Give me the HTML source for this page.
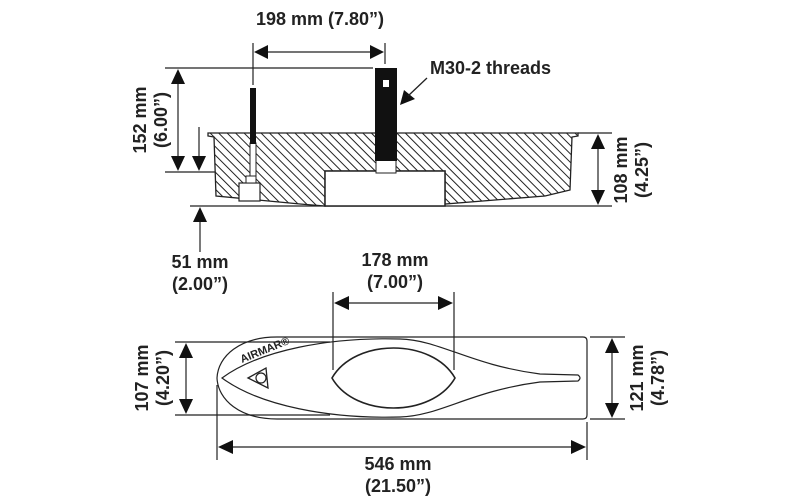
<!DOCTYPE html>
<html><head><meta charset="utf-8"><style>
html,body{margin:0;padding:0;background:#fff;}
svg{display:block;}
text{font-family:"Liberation Sans",Arial,sans-serif;font-weight:bold;font-size:18px;fill:#222;}
</style></head><body>
<svg width="800" height="500" viewBox="0 0 800 500" xmlns="http://www.w3.org/2000/svg">
<defs>
<pattern id="h" width="6" height="6" patternUnits="userSpaceOnUse" patternTransform="rotate(-45)">
<rect width="6" height="6" fill="#fff"/><line x1="0" y1="0" x2="0" y2="6" stroke="#222" stroke-width="2"/>
</pattern>
</defs>
<g stroke="#222" stroke-width="1.2" fill="none">
<line x1="253" y1="43" x2="253" y2="85"/>
<line x1="385" y1="43" x2="385" y2="64"/>
<line x1="165" y1="68" x2="373" y2="68"/>
<line x1="165" y1="172" x2="325" y2="172"/>
<line x1="190" y1="206" x2="445" y2="206"/>
<line x1="578" y1="133" x2="612" y2="133"/>
<line x1="445" y1="206" x2="612" y2="206"/>
<line x1="262" y1="52" x2="376" y2="52"/>
<line x1="178" y1="80" x2="178" y2="160"/>
<line x1="199" y1="127" x2="199" y2="160"/>
<line x1="598" y1="145" x2="598" y2="194"/>
<line x1="200" y1="218" x2="200" y2="252"/>
</g>
<g fill="#111">
<polygon points="254,52 268,45 268,59"/>
<polygon points="384,52 370,45 370,59"/>
<polygon points="178,69 171,84 185,84"/>
<polygon points="178,171 171,156 185,156"/>
<polygon points="199,171 192,156 206,156"/>
<polygon points="598,134 591,149 605,149"/>
<polygon points="598,205 591,190 605,190"/>
<polygon points="200,207 193,222 207,222"/>
<polygon points="400,105 404,90 415,99"/>
</g>
<line x1="427" y1="78" x2="408" y2="96" stroke="#222" stroke-width="1.3"/>
<path d="M208,133 L578,133 L578,136 L572,137 L570,190 L545,196 L445,204 L445,171 L325,171 L325,206 L300,204 L216,196 L214,137 L208,136 Z" fill="url(#h)" stroke="#222" stroke-width="1.3"/>
<rect x="325" y="171" width="120" height="35" fill="#fff" stroke="#222" stroke-width="1.5"/>
<rect x="239" y="183" width="21" height="18" fill="#fff" stroke="#222" stroke-width="1.2"/>
<rect x="246" y="176" width="10" height="7" fill="#fff" stroke="#222" stroke-width="1"/>
<rect x="250" y="143" width="6" height="33" fill="#fff" stroke="#222" stroke-width="1"/>
<rect x="250" y="88" width="6" height="56" fill="#111"/>
<rect x="376" y="160" width="20" height="13" fill="#fff" stroke="#222" stroke-width="1"/>
<rect x="375" y="68" width="22" height="93" fill="#111"/>
<rect x="383" y="80" width="6" height="7" fill="#fff"/>
<text x="320" y="25" text-anchor="middle">198 mm (7.80”)</text>
<text x="430" y="74">M30-2 threads</text>
<text transform="translate(146,120) rotate(-90)" text-anchor="middle">152 mm</text>
<text transform="translate(167,120) rotate(-90)" text-anchor="middle">(6.00”)</text>
<text transform="translate(627,170) rotate(-90)" text-anchor="middle">108 mm</text>
<text transform="translate(648,170) rotate(-90)" text-anchor="middle">(4.25”)</text>
<text x="200" y="268" text-anchor="middle">51 mm</text>
<text x="200" y="290" text-anchor="middle">(2.00”)</text>
<g stroke="#222" stroke-width="1.2" fill="none">
<line x1="333" y1="292" x2="333" y2="370"/>
<line x1="454" y1="292" x2="454" y2="370"/>
<line x1="345" y1="303" x2="442" y2="303"/>
<line x1="175" y1="342" x2="330" y2="342"/>
<line x1="175" y1="415" x2="330" y2="415"/>
<line x1="186" y1="355" x2="186" y2="402"/>
<line x1="590" y1="337" x2="625" y2="337"/>
<line x1="590" y1="419" x2="625" y2="419"/>
<line x1="612" y1="350" x2="612" y2="406"/>
<line x1="217" y1="385" x2="217" y2="460"/>
<line x1="587" y1="422" x2="587" y2="460"/>
<line x1="230" y1="447" x2="574" y2="447"/>
<path d="M277,337 L583,337 Q587,337 587,341 L587,415 Q587,419 583,419 L277,419 C240,419 218,400 217,378 C218,356 240,337 277,337 Z"/>
<path d="M222,378 C260,350 330,337 400,339 C440,340 470,365 540,374 L578,375 Q582,378 578,381 L540,382 C470,391 440,416 400,417 C330,419 260,406 222,378 Z"/>
<path d="M332,378 C355,338 432,338 455,378 C432,418 355,418 332,378 Z" stroke-width="1.6"/>
<polygon points="248,378 266,368 268,388" stroke-width="1.3"/>
<circle cx="261" cy="378" r="5"/>
</g>
<g fill="#111">
<polygon points="334,303 349,296 349,310"/>
<polygon points="453,303 438,296 438,310"/>
<polygon points="186,343 179,358 193,358"/>
<polygon points="186,414 179,399 193,399"/>
<polygon points="612,338 605,353 619,353"/>
<polygon points="612,418 605,403 619,403"/>
<polygon points="218,447 233,440 233,454"/>
<polygon points="586,447 571,440 571,454"/>
</g>
<text transform="translate(242,363) rotate(-22)" style="font-size:11px">AIRMAR®</text>
<text x="395" y="266" text-anchor="middle">178 mm</text>
<text x="395" y="288" text-anchor="middle">(7.00”)</text>
<text transform="translate(148,378) rotate(-90)" text-anchor="middle">107 mm</text>
<text transform="translate(169,378) rotate(-90)" text-anchor="middle">(4.20”)</text>
<text transform="translate(643,378) rotate(-90)" text-anchor="middle">121 mm</text>
<text transform="translate(664,378) rotate(-90)" text-anchor="middle">(4.78”)</text>
<text x="398" y="470" text-anchor="middle">546 mm</text>
<text x="398" y="492" text-anchor="middle">(21.50”)</text>
</svg>
</body></html>
